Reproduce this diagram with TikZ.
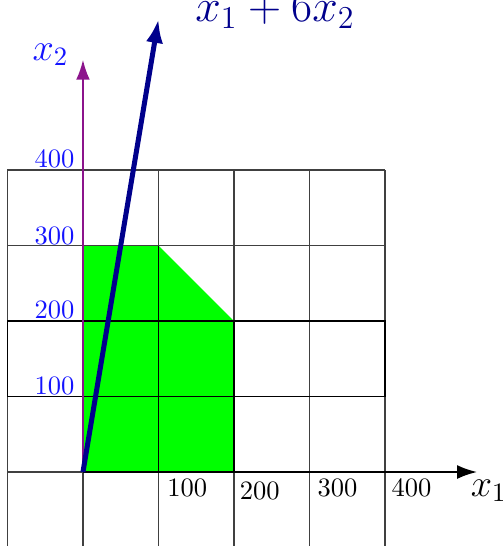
\documentclass[tikz,border=0pt]{standalone}
\usetikzlibrary{arrows.meta}
\definecolor{feasgreen}{RGB}{0,255,0}
\definecolor{objnavy}{RGB}{0,0,140}
\definecolor{ticblue}{RGB}{20,20,255}
\definecolor{axpurple}{RGB}{140,20,140}
\tikzset{
  gridline/.style={black!75, line width=0.45pt},
  darkline/.style={black, line width=0.6pt},
  axisarrow/.style={line width=0.7pt, -{Latex[length=7.5pt,width=5.2pt]}},
  objarrow/.style={objnavy, line width=1.9pt, -{Latex[length=9pt,width=6.5pt]}},
  ylab/.style={ticblue, anchor=base east, inner sep=0pt},
  xlab/.style={black, anchor=base west, inner sep=0pt},
}
\begin{document}
\begin{tikzpicture}
\useasboundingbox (-1.099,-0.980) rectangle (5.563,6.252);
% feasible region
\fill[feasgreen] (0,0) -- (0,3) -- (1,3) -- (2,2) -- (2,0) -- cycle;
% grid
\draw[gridline] (-1,-1) grid (4,4);
\draw[darkline] (-1,1) rectangle (4,2);
\draw[darkline] (1,0) -- (1,3);
\draw[darkline] (2,0) -- (2,2);
\draw[darkline] (0,1) -- (2,1);
% axes
\coordinate (O) at (0,0);
\coordinate (X1end) at (5.22,0);
\coordinate (X2end) at (0,5.46);
\coordinate (Obj) at (1,6);
\draw[axisarrow, black] (O) -- (X1end);
\draw[axisarrow, axpurple] (O) -- (X2end);
% objective direction
\draw[objarrow] (O) -- (Obj);
% labels
\node[xlab, font=\Large] (lx1) at (5.13,-0.32) {$x_1$};
\node[ticblue, anchor=base west, inner sep=0pt, font=\Large] (lx2) at (-0.675,5.457) {$x_2$};
\node[objnavy, anchor=base west, inner sep=0pt, font=\LARGE] (lobj) at (1.483,5.97) {$x_1+6x_2$};
% y tick labels
\node[ylab] (y100) at (-0.105,1.03) {100};
\node[ylab] (y200) at (-0.105,2.03) {200};
\node[ylab] (y300) at (-0.105,3.02) {300};
\node[ylab] (y400) at (-0.105,4.03) {400};
% x tick labels
\node[xlab] (x100) at (1.11,-0.32) {100};
\node[xlab] (x200) at (2.07,-0.36) {200};
\node[xlab] (x300) at (3.10,-0.33) {300};
\node[xlab] (x400) at (4.08,-0.33) {400};
\end{tikzpicture}
\end{document}
